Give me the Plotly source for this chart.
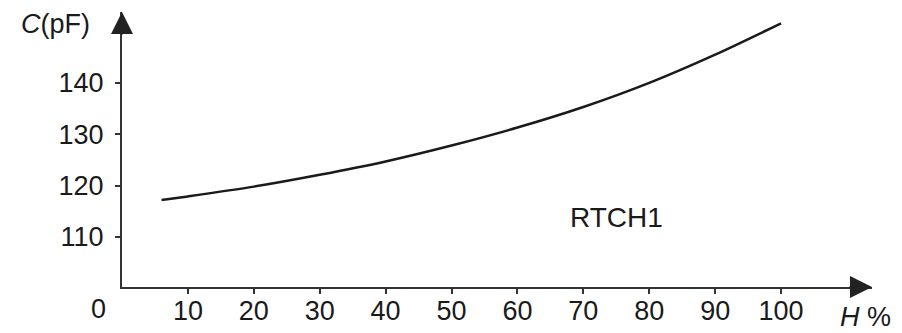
import plotly.graph_objects as go

# Data
humidity = [6, 10, 20, 30, 40, 50, 60, 70, 80, 90, 100]
capacitance = [117.2, 117.9, 119.8, 122.1, 124.7, 127.8, 131.3, 135.3, 140.0, 145.5, 151.6]
x_ticks = [10, 20, 30, 40, 50, 60, 70, 80, 90, 100]
y_ticks = [110, 120, 130, 140]
series_label = "RTCH1"

X_RANGE = [0, 113.8]
Y_RANGE = [100.26, 153.8]

FONT = "Liberation Sans, Arial, Helvetica, sans-serif"
INK = "#1a1a1a"

fig = go.Figure()
fig.add_trace(go.Scatter(
    x=humidity, y=capacitance, mode="lines",
    line=dict(color=INK, width=2.5, shape="spline", smoothing=0.8),
    hoverinfo="skip", showlegend=False,
))

axis_common = dict(
    showline=True, linecolor="#333", linewidth=2,
    showgrid=False, zeroline=False,
    ticks="outside", ticklen=5, tickwidth=1.5, tickcolor="#333",
    tickfont=dict(family=FONT, size=27, color=INK),
    automargin=False, fixedrange=True,
)

fig.update_xaxes(range=X_RANGE, tickvals=x_ticks, ticklabelstandoff=-6, **axis_common)
fig.update_yaxes(range=Y_RANGE, tickvals=y_ticks, ticklabelstandoff=6, **axis_common)

annotations = [
    # y-axis arrowhead
    dict(x=0, y=1, xref="x", yref="paper", ax=0, ay=24, axref="pixel", ayref="pixel",
         text="", showarrow=True, arrowhead=2, arrowsize=2.2, arrowwidth=2,
         arrowcolor="#222", standoff=0),
    # x-axis arrowhead
    dict(x=1, y=Y_RANGE[0], xref="paper", yref="y", ax=-24, ay=0,
         text="", showarrow=True, arrowhead=2, arrowsize=2.2, arrowwidth=2,
         arrowcolor="#222", standoff=0),
    # origin label
    dict(x=0, y=Y_RANGE[0], xref="x", yref="y", text="0", showarrow=False,
         xshift=-24, yshift=-22, font=dict(family=FONT, size=27, color=INK)),
    # axis titles
    dict(x=-0.0893, y=0.9564, xref="paper", yref="paper", text="<i>C</i>(pF)",
         showarrow=False, xanchor="center", yanchor="middle",
         font=dict(family=FONT, size=27, color=INK)),
    dict(x=0.9907, y=-0.109, xref="paper", yref="paper", text="<i>H</i> %",
         showarrow=False, xanchor="center", yanchor="middle",
         font=dict(family=FONT, size=27, color=INK)),
    # series label
    dict(x=75, y=113.7, xref="x", yref="y", text=series_label, showarrow=False,
         xanchor="center", yanchor="middle",
         font=dict(family=FONT, size=28, color=INK)),
]

fig.update_layout(
    width=902, height=333,
    margin=dict(l=122, r=30, t=12, b=46, autoexpand=False),
    paper_bgcolor="white", plot_bgcolor="white",
    annotations=annotations,
    showlegend=False,
)

fig.write_html(
    "out.html",
    config={"displayModeBar": False},
    post_script="document.body.style.margin='0';document.body.style.overflow='hidden';",
)
